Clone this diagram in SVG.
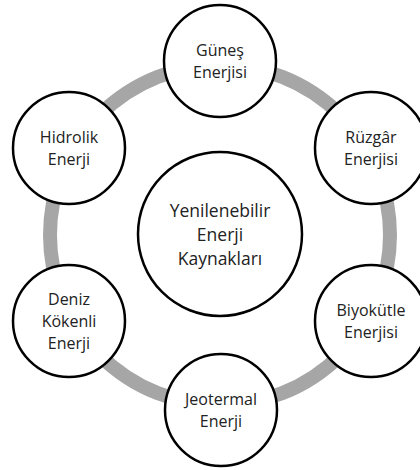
<svg xmlns="http://www.w3.org/2000/svg" width="420" height="470" viewBox="0 0 420 470">
<style>
.node{fill:#ffffff;stroke:#000000;stroke-width:2.5}
.t{font-family:"Open Sans","Liberation Sans",sans-serif;font-size:16px;fill:#222222;text-anchor:middle}
.tc{font-family:"Open Sans","Liberation Sans",sans-serif;font-size:17.5px;fill:#222222;text-anchor:middle}
</style>
<rect width="420" height="470" fill="#ffffff"/>
<g id="connectors">
<circle cx="220" cy="235" r="170" fill="none" stroke="#a6a6a6" stroke-width="14"/>
</g>
<g id="center">
<circle class="node" cx="220" cy="234" r="82"/>
<text class="tc" x="220" y="216.5">Yenilenebilir</text>
<text class="tc" x="220" y="240.5">Enerji</text>
<text class="tc" x="220" y="264.5">Kaynakları</text>
</g>
<g id="gunes">
<circle class="node" cx="220" cy="61" r="56"/>
<text class="t" x="220" y="55.6">Güneş</text>
<text class="t" x="220" y="77.6">Enerjisi</text>
</g>
<g id="ruzgar">
<circle class="node" cx="371" cy="148" r="56"/>
<text class="t" x="371" y="142.6">Rüzgâr</text>
<text class="t" x="371" y="164.6">Enerjisi</text>
</g>
<g id="biyokutle">
<circle class="node" cx="371" cy="321" r="56"/>
<text class="t" x="371" y="315.6">Biyokütle</text>
<text class="t" x="371" y="337.6">Enerjisi</text>
</g>
<g id="jeotermal">
<circle class="node" cx="221" cy="410" r="56"/>
<text class="t" x="221" y="404.6">Jeotermal</text>
<text class="t" x="221" y="426.6">Enerji</text>
</g>
<g id="deniz">
<circle class="node" cx="69" cy="321" r="56"/>
<text class="t" x="69" y="304.6">Deniz</text>
<text class="t" x="69" y="326.6">Kökenli</text>
<text class="t" x="69" y="348.6">Enerji</text>
</g>
<g id="hidrolik">
<circle class="node" cx="69" cy="148" r="56"/>
<text class="t" x="69" y="142.6">Hidrolik</text>
<text class="t" x="69" y="164.6">Enerji</text>
</g>
</svg>
